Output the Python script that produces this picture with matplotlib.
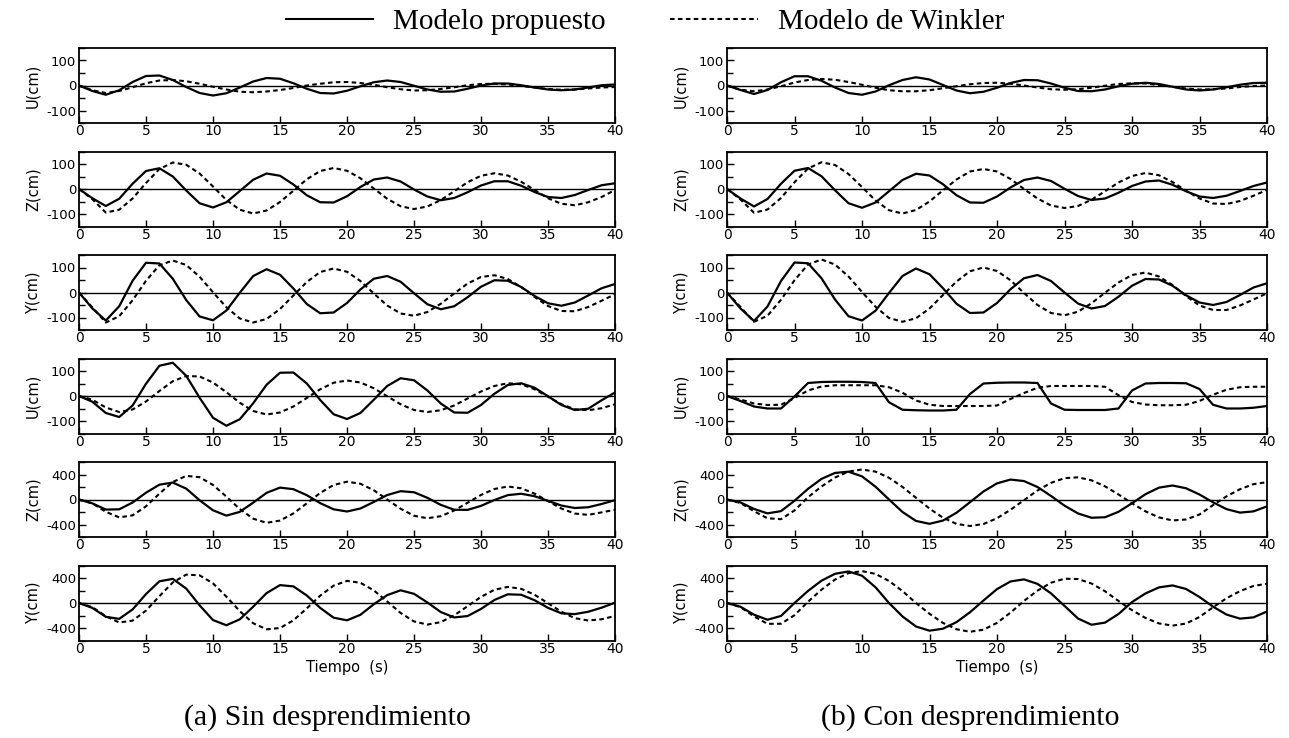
import matplotlib
matplotlib.use("Agg")
import matplotlib.pyplot as plt
from matplotlib.lines import Line2D
from matplotlib.ticker import MultipleLocator

# ---------------- data (1 s steps) ----------------
time_s = list(range(0, 41))
xticks = [0, 5, 10, 15, 20, 25, 30, 35, 40]

row_labels = ["U(cm)", "Z(cm)", "Y(cm)", "U(cm)", "Z(cm)", "Y(cm)"]
row_limits = [150, 150, 150, 150, 600, 600]
row_major = [100, 100, 100, 100, 400, 400]
row_minor = [50, 50, 50, 50, 200, 200]

# (a) Sin desprendimiento
a_row1_prop = [0, -22, -37, -19, 14, 38, 40, 22, -6, -30, -40, -31, -8, 16, 30, 27, 9, -13, -30, -32,
               -21, -3, 13, 20, 14, -1, -16, -25, -24, -13, 0, 8, 8, 1, -8, -16, -19, -16, -8, 1, 4]
a_row1_wink = [0, -19, -30, -22, -7, 9, 20, 22, 17, 7, -5, -16, -25, -27, -24, -18, -10, 0, 7, 13,
               14, 10, 3, -7, -15, -20, -19, -14, -7, 1, 6, 7, 4, -2, -8, -14, -17, -16, -12, -8, -6]
a_row2_prop = [0, -37, -68, -39, 21, 72, 83, 50, -6, -57, -74, -53, -8, 37, 62, 53, 18, -25, -53, -54,
               -29, 8, 38, 46, 30, -2, -30, -45, -36, -13, 14, 31, 31, 13, -12, -32, -36, -24, -4, 15, 23]
a_row2_wink = [0, -41, -94, -83, -38, 24, 80, 106, 97, 62, 10, -44, -83, -98, -86, -52, -7, 39, 72, 84,
               73, 43, 2, -39, -69, -80, -70, -44, -9, 27, 53, 63, 54, 29, -4, -37, -59, -65, -53, -32, -4]
a_row3_prop = [0, -64, -112, -55, 47, 119, 116, 55, -30, -96, -111, -72, -1, 66, 93, 71, 16, -46, -83, -80,
               -42, 12, 55, 66, 43, -3, -47, -67, -55, -19, 23, 49, 47, 22, -14, -43, -53, -40, -12, 17, 34]
a_row3_wink = [0, -60, -120, -95, -31, 47, 109, 128, 110, 63, 1, -59, -104, -120, -106, -66, -12, 42, 82, 96,
               83, 46, -4, -52, -84, -93, -78, -45, -4, 36, 62, 69, 54, 22, -18, -54, -74, -75, -58, -33, -7]
a_row4_prop = [0, -23, -68, -84, -38, 49, 121, 133, 81, -7, -87, -119, -93, -29, 45, 93, 94, 50, -16, -73,
               -92, -68, -15, 40, 71, 63, 22, -30, -66, -67, -36, 9, 44, 51, 33, -1, -36, -56, -51, -17, 14]
a_row4_wink = [0, -15, -46, -64, -54, -22, 20, 59, 80, 78, 54, 15, -27, -60, -74, -66, -42, -8, 27, 53,
               62, 54, 31, -1, -33, -56, -64, -57, -38, -10, 18, 40, 51, 47, 27, -3, -33, -53, -57, -49, -33]
a_row5_prop = [0, -62, -161, -157, -48, 109, 237, 271, 174, -12, -173, -258, -198, -50, 107, 190, 165, 69, -58, -157,
               -192, -144, -39, 71, 133, 116, 27, -86, -164, -166, -102, -8, 70, 92, 53, -22, -97, -136, -124, -72, -10]
a_row5_wink = [0, -62, -197, -286, -254, -109, 94, 280, 378, 357, 233, 46, -153, -307, -373, -337, -223, -61, 105, 232,
               285, 252, 148, 0, -148, -260, -300, -267, -176, -52, 73, 168, 208, 180, 94, -26, -145, -225, -246, -206, -164]
a_row6_prop = [0, -79, -221, -254, -103, 143, 347, 386, 231, -37, -273, -356, -261, -59, 159, 286, 266, 120, -78, -235,
               -277, -189, -20, 126, 203, 147, 8, -145, -231, -209, -95, 48, 139, 132, 44, -77, -165, -178, -140, -75, 5]
a_row6_wink = [0, -67, -211, -312, -282, -122, 109, 329, 454, 443, 314, 102, -131, -324, -421, -400, -278, -86, 117, 278,
               354, 323, 202, 24, -159, -295, -345, -306, -197, -51, 98, 211, 258, 227, 132, -4, -140, -243, -280, -260, -208]

# (b) Con desprendimiento
b_row1_prop = [0, -18, -34, -18, 13, 37, 37, 19, -8, -30, -37, -24, 1, 22, 33, 24, 2, -20, -31, -25,
               -9, 10, 22, 21, 8, -9, -22, -23, -16, -3, 7, 11, 6, -5, -16, -20, -16, -7, 3, 10, 11]
b_row1_wink = [0, -17, -23, -16, -3, 12, 22, 26, 23, 14, 3, -9, -19, -23, -23, -19, -11, -3, 5, 10,
               11, 7, 0, -8, -15, -17, -15, -9, -1, 6, 9, 8, 2, -5, -12, -16, -15, -12, -6, -2, 0]
b_row2_prop = [0, -38, -70, -40, 21, 73, 84, 51, -5, -57, -75, -54, -9, 36, 61, 54, 19, -25, -54, -55,
               -30, 6, 36, 46, 32, 1, -28, -44, -38, -15, 12, 30, 34, 17, -9, -30, -36, -27, -8, 12, 26]
b_row2_wink = [0, -42, -95, -82, -36, 27, 82, 107, 96, 60, 8, -46, -85, -98, -84, -50, -5, 38, 70, 80,
               70, 40, 0, -38, -66, -76, -68, -43, -9, 26, 52, 64, 55, 28, -7, -38, -58, -60, -48, -27, -4]
b_row3_prop = [0, -64, -114, -56, 46, 120, 117, 57, -28, -95, -112, -73, -2, 66, 96, 73, 17, -45, -82, -80,
               -42, 13, 57, 70, 46, 0, -44, -64, -54, -17, 27, 54, 52, 27, -11, -40, -50, -38, -10, 20, 37]
b_row3_wink = [0, -58, -117, -93, -29, 49, 112, 132, 112, 64, 2, -57, -102, -117, -103, -64, -10, 44, 85, 100,
               86, 49, -2, -50, -82, -91, -77, -43, -1, 40, 70, 80, 64, 30, -14, -52, -70, -70, -52, -28, -3]
b_row4_prop = [0, -20, -42, -50, -50, -2, 52, 56, 57, 57, 56, 52, -25, -55, -57, -58, -58, -55, 8, 50,
               53, 54, 54, 52, -30, -55, -56, -56, -56, -50, 22, 50, 52, 52, 51, 28, -35, -50, -50, -47, -40]
b_row4_wink = [0, -14, -30, -36, -35, -8, 22, 38, 43, 43, 43, 43, 35, 13, -18, -35, -40, -40, -40, -40,
               -38, -12, 12, 33, 40, 40, 40, 40, 37, 3, -24, -34, -37, -37, -35, -20, 5, 25, 35, 37, 37]
b_row5_prop = [0, -47, -151, -222, -186, -20, 170, 330, 425, 445, 370, 205, 0, -200, -343, -389, -337, -212, -43, 129,
               258, 319, 295, 200, 57, -98, -223, -292, -284, -197, -60, 85, 190, 224, 180, 80, -45, -154, -210, -190, -110]
b_row5_wink = [0, -57, -188, -300, -315, -175, 36, 208, 351, 447, 480, 446, 348, 201, 28, -145, -292, -390, -424, -392,
               -300, -165, -10, 144, 267, 341, 355, 307, 211, 81, -61, -190, -287, -335, -320, -240, -90, 50, 165, 245, 278]
b_row6_prop = [0, -60, -187, -268, -207, 0, 193, 357, 467, 505, 437, 252, 0, -215, -376, -443, -411, -306, -148, 40,
               222, 345, 378, 306, 154, -46, -248, -348, -314, -176, 15, 153, 250, 281, 225, 96, -58, -185, -250, -230, -135]
b_row6_wink = [0, -66, -214, -333, -332, -195, 20, 213, 375, 478, 510, 466, 353, 191, 0, -172, -319, -420, -460, -427,
               -318, -154, 34, 198, 324, 389, 383, 312, 188, 32, -115, -240, -327, -362, -329, -224, -69, 76, 190, 273, 308]

legend_labels = ["Modelo propuesto", "Modelo de Winkler"]
captions = ["(a) Sin desprendimiento", "(b) Con desprendimiento"]
xlabel_text = "Tiempo  (s)"

columns = [
    [(a_row1_prop, a_row1_wink), (a_row2_prop, a_row2_wink), (a_row3_prop, a_row3_wink),
     (a_row4_prop, a_row4_wink), (a_row5_prop, a_row5_wink), (a_row6_prop, a_row6_wink)],
    [(b_row1_prop, b_row1_wink), (b_row2_prop, b_row2_wink), (b_row3_prop, b_row3_wink),
     (b_row4_prop, b_row4_wink), (b_row5_prop, b_row5_wink), (b_row6_prop, b_row6_wink)],
]

# ---------------- layout ----------------
W, H = 1289, 738
fig = plt.figure(figsize=(W / 100, H / 100), dpi=100)
fig.patch.set_facecolor("white")

col_x = [(79, 615), (727, 1267)]
row_top0, row_pitch, row_h = 48, 103.5, 75
sans = "DejaVu Sans"
serif = "Liberation Serif"
dash_style = (0, (2.2, 1.6))

for ci, (x0, x1) in enumerate(col_x):
    for ri in range(6):
        top = row_top0 + ri * row_pitch
        ax = fig.add_axes([x0 / W, 1 - (top + row_h) / H, (x1 - x0) / W, row_h / H])
        prop, wink = columns[ci][ri]
        ax.axhline(0, color="black", lw=1.0, zorder=1)
        ax.plot(time_s, wink, color="black", lw=1.5, linestyle=dash_style, zorder=2)
        ax.plot(time_s, prop, color="black", lw=1.6, zorder=3, solid_joinstyle="round")
        lim = row_limits[ri]
        ax.set_xlim(0, 40)
        ax.set_ylim(-lim, lim)
        ax.set_xticks(xticks)
        ax.set_xticklabels([str(v) for v in xticks], fontsize=10, family=sans)
        mj = row_major[ri]
        ax.set_yticks([-mj, 0, mj])
        ax.set_yticklabels(["-%d" % mj, "0", "%d" % mj], fontsize=9.5, family=sans)
        ax.yaxis.set_minor_locator(MultipleLocator(row_minor[ri]))
        ax.tick_params(axis="both", which="major", direction="in", length=5, width=1.0, pad=2)
        ax.tick_params(axis="y", which="minor", direction="in", length=4, width=1.0)
        ax.tick_params(axis="x", pad=1)
        for sp in ax.spines.values():
            sp.set_linewidth(1.3)
        ax.set_ylabel(row_labels[ri], fontsize=10.5, family=sans, labelpad=4)
        if ri == 5:
            ax.set_xlabel(xlabel_text, fontsize=10.5, family=sans, labelpad=3)

# legend
handles = [Line2D([], [], color="black", lw=1.5),
           Line2D([], [], color="black", lw=1.5, linestyle=dash_style)]
fig.legend(handles, legend_labels, loc="center", bbox_to_anchor=(645 / W, 1 - 22 / H),
           ncol=2, frameon=False, prop={"family": serif, "size": 21},
           handlelength=3.0, handletextpad=0.7, columnspacing=2.2)

# captions
fig.text(327 / W, 1 - 718 / H, captions[0], ha="center", va="center", family=serif, fontsize=21.5)
fig.text(970 / W, 1 - 718 / H, captions[1], ha="center", va="center", family=serif, fontsize=21.5)

fig.savefig("out.png", dpi=100, facecolor="white")
